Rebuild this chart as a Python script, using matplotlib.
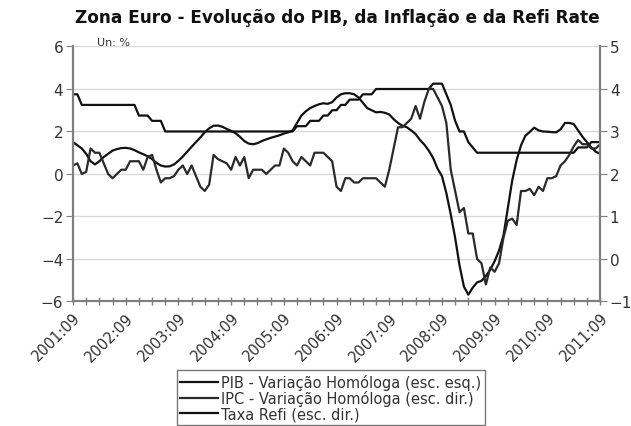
import matplotlib
matplotlib.use("Agg")
import matplotlib.pyplot as plt
import numpy as np

# monthly data, 2001:09 .. 2011:09
start_year, start_month = 2001, 9

pib = [1.50, 1.35, 1.20, 0.95, 0.60, 0.45, 0.60, 0.80, 0.95, 1.10,
       1.17, 1.22, 1.23, 1.20, 1.12, 1.02, 0.93, 0.83, 0.70, 0.52,
       0.40, 0.35, 0.36, 0.45, 0.62, 0.82, 1.05, 1.28, 1.50, 1.72,
       1.96, 2.15, 2.27, 2.28, 2.22, 2.12, 2.03, 1.92, 1.75, 1.55,
       1.43, 1.40, 1.45, 1.55, 1.63, 1.70, 1.76, 1.82, 1.90, 1.96,
       2.05, 2.40, 2.75, 2.95, 3.10, 3.20, 3.28, 3.33, 3.30, 3.38,
       3.60, 3.75, 3.80, 3.80, 3.75, 3.60, 3.35, 3.10, 3.00, 2.90,
       2.92, 2.88, 2.80, 2.58, 2.40, 2.27, 2.20, 2.05, 1.88, 1.60,
       1.38, 1.10, 0.75, 0.25, -0.10, -0.90, -1.90, -3.00, -4.30, -5.30,
       -5.68, -5.35, -5.10, -5.03, -4.80, -4.50, -4.10, -3.60, -2.90, -1.60,
       -0.30, 0.65, 1.35, 1.80, 1.98, 2.18, 2.05, 2.00, 1.99, 1.97,
       1.96, 2.10, 2.40, 2.40, 2.35, 2.05, 1.75, 1.50, 1.25, 1.05,
       0.95]

ipc = [2.20, 2.25, 2.00, 2.05, 2.60, 2.50, 2.50, 2.25, 2.00, 1.90,
       2.00, 2.10, 2.10, 2.30, 2.30, 2.30, 2.10, 2.40, 2.45, 2.10,
       1.80, 1.90, 1.90, 1.95, 2.10, 2.20, 2.00, 2.20, 1.95, 1.70,
       1.60, 1.75, 2.45, 2.35, 2.30, 2.25, 2.10, 2.40, 2.20, 2.40,
       1.90, 2.10, 2.10, 2.10, 2.00, 2.10, 2.20, 2.20, 2.60, 2.50,
       2.30, 2.20, 2.40, 2.30, 2.20, 2.50, 2.50, 2.50, 2.40, 2.30,
       1.70, 1.60, 1.90, 1.90, 1.80, 1.80, 1.90, 1.90, 1.90, 1.90,
       1.80, 1.70, 2.10, 2.60, 3.10, 3.10, 3.20, 3.30, 3.60, 3.30,
       3.70, 4.00, 4.00, 3.80, 3.60, 3.20, 2.10, 1.60, 1.10, 1.20,
       0.60, 0.60, 0.00, -0.10, -0.60, -0.20, -0.30, -0.10, 0.50, 0.90,
       0.95, 0.80, 1.60, 1.60, 1.65, 1.50, 1.70, 1.60, 1.90, 1.90,
       1.95, 2.20, 2.30, 2.45, 2.65, 2.80, 2.70, 2.70, 2.60, 2.60,
       2.70]

refi = [3.75, 3.75] + [3.25] * 13 + [2.75] * 3 + [2.50] * 3 + [2.00] * 30 \
     + [2.25] * 3 + [2.50] * 3 + [2.75] * 2 + [3.00] * 2 + [3.25] * 2 \
     + [3.50] * 3 + [3.75] * 3 + [4.00] * 13 + [4.25] * 3 \
     + [3.75, 3.25, 2.50, 2.00, 2.00, 1.50, 1.25] + [1.00] * 23 \
     + [1.25] * 3 + [1.50] * 3

x = np.arange(len(pib))
labels = ["%d:%02d" % (start_year + (start_month - 1 + i) // 12,
                       (start_month - 1 + i) % 12 + 1) for i in x]

txt = "#333333"
spine = "#7f7f7f"

fig = plt.figure(figsize=(6.31, 4.27), dpi=100)
ax = fig.add_axes([0.1157, 0.2916, 0.8353, 0.5972])
ax2 = ax.twinx()

ax.plot(x, pib, color="#111111", lw=1.6, label="PIB - Variação Homóloga (esc. esq.)")
ln_ipc, = ax2.plot(x, ipc, color="#2a2a2a", lw=1.6, label="IPC - Variação Homóloga (esc. dir.)")
ax.plot(x, refi, color="#111111", lw=1.6, label="Taxa Refi (esc. dir.)")

ax.set_xlim(0, len(x) - 1)
ax.set_ylim(-6, 6)
ax2.set_ylim(-1, 5)
ax.set_yticks(np.arange(-6, 7, 2))
ax2.set_yticks(np.arange(-1, 6, 1))

ax.grid(axis="y", color="#d9d9d9", lw=1)
ax.set_axisbelow(True)

major = x[::12]
ax.set_xticks(major)
ax.set_xticks(x[::3], minor=True)
ax.set_xticklabels([labels[i] for i in major], rotation=45, ha="right",
                   rotation_mode="anchor", fontsize=10.5, color=txt)
ax.tick_params(axis="x", which="both", direction="inout", length=6,
               color=spine, width=1, pad=3)
ax.tick_params(axis="y", direction="out", length=5, color=spine,
               labelsize=11, labelcolor=txt, pad=2)
ax2.tick_params(axis="y", direction="out", length=5, color=spine,
                labelsize=11, labelcolor=txt, pad=2)

for a in (ax, ax2):
    a.spines["top"].set_visible(False)
    for s in ("left", "right", "bottom"):
        a.spines[s].set_color(spine)
        a.spines[s].set_linewidth(1.5)

fig.text(0.534, 0.958, "Zona Euro - Evolução do PIB, da Inflação e da Refi Rate",
         ha="center", va="center", fontsize=12.2, fontweight="bold", color="#111111")
fig.text(0.153, 0.9, "Un: %", fontsize=8, color=txt, va="center")

h1, l1 = ax.get_legend_handles_labels()
handles = [h1[0], ln_ipc, h1[1]]
names = [l1[0], ln_ipc.get_label(), l1[1]]
leg = fig.legend(handles, names, loc="upper center", bbox_to_anchor=(0.524, 0.13),
                 fontsize=10.5, frameon=True, fancybox=False, handlelength=2.6,
                 handletextpad=0.2, borderpad=0.25, labelspacing=0.0,
                 edgecolor="#555555", borderaxespad=0)
leg.get_frame().set_linewidth(1.0)
for t in leg.get_texts():
    t.set_color(txt)

fig.savefig("out.png", dpi=100, facecolor="white")
